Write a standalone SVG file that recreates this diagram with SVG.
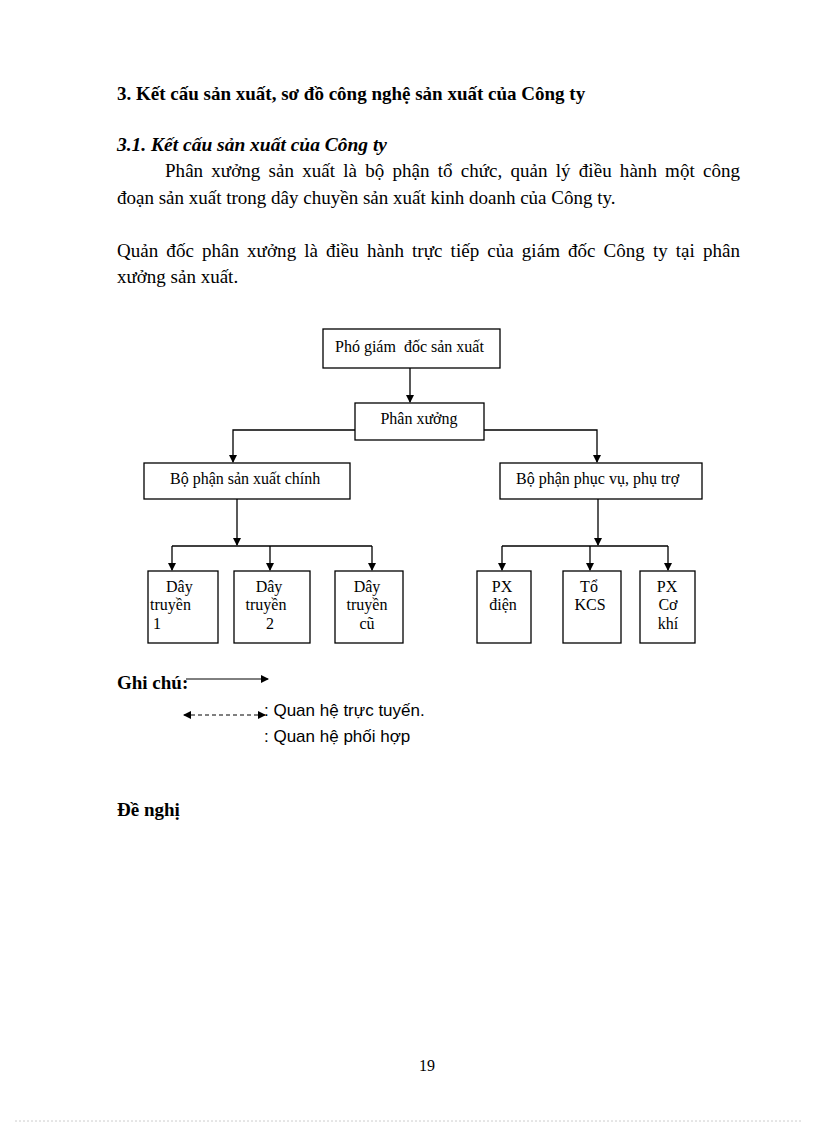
<svg xmlns="http://www.w3.org/2000/svg" width="816" height="1123" viewBox="0 0 816 1123">
<style>
.t{font-family:"Liberation Serif","Times New Roman",serif;fill:#000}
.p{font-size:19px}
.h{font-size:19px;font-weight:bold}
.hi{font-size:19px;font-weight:bold;font-style:italic}
.n{font-size:16px}
.pg{font-size:16px}
.box{fill:#fff;stroke:#000;stroke-width:1.3}
.ln{fill:none;stroke:#000;stroke-width:1.3}
.lg{font-family:"Liberation Sans",Arial,sans-serif;font-size:17px;fill:#000}
</style>
<defs>
<marker id="ar" markerWidth="8" markerHeight="8" refX="7" refY="4" orient="auto" markerUnits="userSpaceOnUse">
<path d="M0,0 L8,4 L0,8 Z" fill="#000"/>
</marker>
<marker id="as" markerWidth="8" markerHeight="8" refX="1" refY="4" orient="auto" markerUnits="userSpaceOnUse">
<path d="M8,0 L0,4 L8,8 Z" fill="#000"/>
</marker>
</defs>
<rect width="816" height="1123" fill="#fff"/>

<text class="t h" x="117" y="100">3. Kết cấu sản xuất, sơ đồ công nghệ sản xuất của Công ty</text>
<text class="t hi" x="117" y="151" textLength="270" lengthAdjust="spacingAndGlyphs">3.1. Kết cấu sản xuất của Công ty</text>
<text class="t p" x="165" y="177" word-spacing="3.4" textLength="575" lengthAdjust="spacing">Phân xưởng sản xuất là bộ phận tổ chức, quản lý điều hành một công</text>
<text class="t p" x="117" y="204">đoạn sản xuất trong dây chuyền sản xuất kinh doanh của Công ty.</text>
<text class="t p" x="117" y="257" word-spacing="3.2" textLength="623" lengthAdjust="spacing">Quản đốc phân xưởng là điều hành trực tiếp của giám đốc Công ty tại phân</text>
<text class="t p" x="117" y="283">xưởng sản xuất.</text>

<g id="connectors">
<line class="ln" x1="410" y1="368" x2="410" y2="402" marker-end="url(#ar)"/>
<polyline class="ln" points="355,430 233,430 233,462" marker-end="url(#ar)"/>
<polyline class="ln" points="484,430 597,430 597,462" marker-end="url(#ar)"/>
<line class="ln" x1="237" y1="499" x2="237" y2="545" marker-end="url(#ar)"/>
<line class="ln" x1="172" y1="546" x2="372" y2="546"/>
<line class="ln" x1="172" y1="546" x2="172" y2="570" marker-end="url(#ar)"/>
<line class="ln" x1="270" y1="546" x2="270" y2="570" marker-end="url(#ar)"/>
<line class="ln" x1="372" y1="546" x2="372" y2="570" marker-end="url(#ar)"/>
<line class="ln" x1="598" y1="499" x2="598" y2="545" marker-end="url(#ar)"/>
<line class="ln" x1="502" y1="546" x2="668" y2="546"/>
<line class="ln" x1="502" y1="546" x2="502" y2="570" marker-end="url(#ar)"/>
<line class="ln" x1="590" y1="546" x2="590" y2="570" marker-end="url(#ar)"/>
<line class="ln" x1="668" y1="546" x2="668" y2="570" marker-end="url(#ar)"/>
</g>

<g id="pho-giam-doc">
<rect class="box" x="323" y="329" width="177" height="39"/>
<text class="t n" x="335" y="352" xml:space="preserve">Phó giám  đốc sản xuất</text>
</g>
<g id="phan-xuong">
<rect class="box" x="355" y="403" width="129" height="37"/>
<text class="t n" x="419" y="424" text-anchor="middle">Phân xưởng</text>
</g>
<g id="bp-san-xuat-chinh">
<rect class="box" x="144" y="463" width="206" height="36"/>
<text class="t n" x="170" y="484">Bộ phận sản xuất chính</text>
</g>
<g id="bp-phuc-vu">
<rect class="box" x="500" y="463" width="202" height="36"/>
<text class="t n" x="516" y="484">Bộ phận phục vụ, phụ trợ</text>
</g>

<g id="day-truyen-1">
<rect class="box" x="148" y="571" width="70" height="72"/>
<text class="t n" x="166" y="592">Dây</text>
<text class="t n" x="150" y="610">truyền</text>
<text class="t n" x="153" y="629">1</text>
</g>
<g id="day-truyen-2">
<rect class="box" x="234" y="571" width="76" height="72"/>
<text class="t n" x="269" y="592" text-anchor="middle">Dây</text>
<text class="t n" x="266" y="610" text-anchor="middle">truyền</text>
<text class="t n" x="270" y="629" text-anchor="middle">2</text>
</g>
<g id="day-truyen-cu">
<rect class="box" x="335" y="571" width="68" height="72"/>
<text class="t n" x="367" y="592" text-anchor="middle">Dây</text>
<text class="t n" x="367" y="610" text-anchor="middle">truyền</text>
<text class="t n" x="367" y="629" text-anchor="middle">cũ</text>
</g>
<g id="px-dien">
<rect class="box" x="477" y="571" width="54" height="72"/>
<text class="t n" x="502" y="592" text-anchor="middle">PX</text>
<text class="t n" x="503" y="610" text-anchor="middle">điện</text>
</g>
<g id="to-kcs">
<rect class="box" x="563" y="571" width="58" height="72"/>
<text class="t n" x="589" y="592" text-anchor="middle">Tổ</text>
<text class="t n" x="590" y="610" text-anchor="middle">KCS</text>
</g>
<g id="px-co-khi">
<rect class="box" x="640" y="571" width="55" height="72"/>
<text class="t n" x="667" y="592" text-anchor="middle">PX</text>
<text class="t n" x="668" y="610" text-anchor="middle">Cơ</text>
<text class="t n" x="668" y="629" text-anchor="middle">khí</text>
</g>

<g id="legend">
<text class="t h" x="117" y="689">Ghi chú:</text>
<line x1="186" y1="679" x2="268" y2="679" stroke="#000" stroke-width="1" marker-end="url(#ar)"/>
<line x1="184" y1="715" x2="265" y2="715" stroke="#000" stroke-width="1" stroke-dasharray="4,3" marker-start="url(#as)" marker-end="url(#ar)"/>
<text class="lg" x="264" y="716">: Quan hệ trực tuyến.</text>
<text class="lg" x="264" y="742">: Quan hệ phối hợp</text>
</g>

<text class="t h" x="117" y="816">Đề nghị</text>
<text class="t pg" x="427" y="1071" text-anchor="middle">19</text>
<line x1="15" y1="1121" x2="801" y2="1121" stroke="#ccc" stroke-width="1" stroke-dasharray="2,2"/>
</svg>
